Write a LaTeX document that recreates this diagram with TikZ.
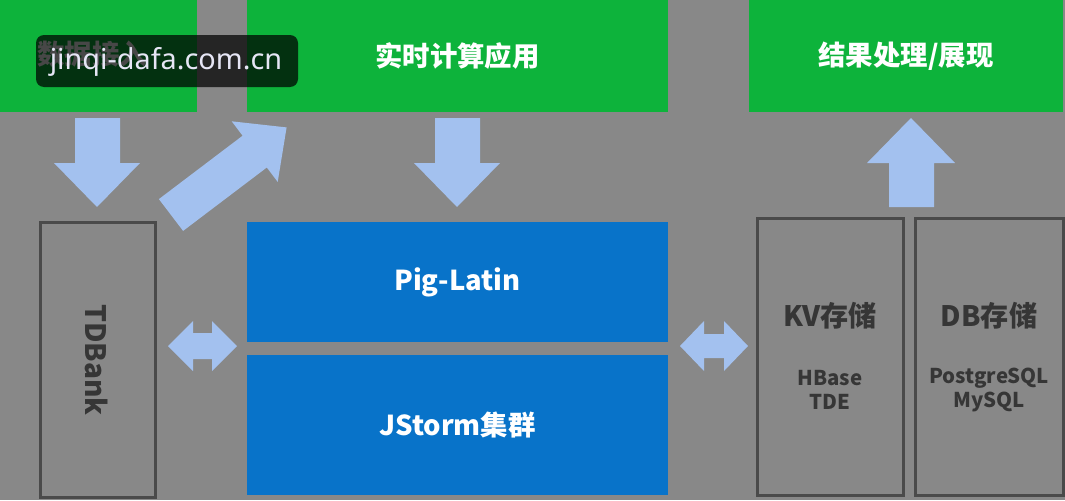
\documentclass[tikz,border=0pt]{standalone}
\usepackage{fontspec}
\setmainfont{Noto Sans CJK SC}
\newfontfamily\wmfont{Noto Sans}
\definecolor{bg}{HTML}{888888}
\definecolor{gbox}{HTML}{0DB33B}
\definecolor{bbox}{HTML}{0873C9}
\definecolor{arr}{HTML}{A3C1EF}
\definecolor{dk}{HTML}{363636}
\definecolor{bd}{HTML}{4A4A4A}
\definecolor{wmtext}{HTML}{E6E6F5}
\def\u{0.025cm}
\begin{document}
\begin{tikzpicture}[x=0.025cm,y=-0.025cm,
  greenbox/.style={fill=gbox,draw=none,inner sep=0pt,text=white,font=\fontsize{19.5}{22}\selectfont\bfseries},
  bluebox/.style={fill=bbox,draw=none,inner sep=0pt,text=white,font=\fontsize{19.5}{22}\selectfont\bfseries},
  storebox/.style={draw=bd,line width=3*\u,inner sep=0pt},
  bigarrow/.style={fill=arr,draw=none},
  darktext/.style={text=dk,font=\bfseries}]
\fill[bg] (0,0) rectangle (1065,500);
\useasboundingbox (0,0) rectangle (1065,500);
% top green boxes
\node[greenbox,minimum width=197*\u,minimum height=112*\u] (g1) at (98.5,56) {};
\node[text=white,font=\fontsize{19.5}{22}\selectfont\bfseries] (g1t) at (92,54) {数据接入};
\node[greenbox,minimum width=421*\u,minimum height=112*\u] (g2) at (457.5,56) {实时计算应用};
\node[greenbox,minimum width=314*\u,minimum height=112*\u] (g3) at (906,56) {结果处理/展现};
% middle blue boxes
\node[bluebox,minimum width=421*\u,minimum height=120*\u] (pig) at (457.5,282) {Pig-Latin};
\node[bluebox,minimum width=421*\u,minimum height=140*\u] (js) at (457.5,425) {JStorm集群};
% storage boxes
\node[storebox,minimum width=115*\u,minimum height=275*\u] (tdb) at (97.5,359.5) {};
\node[darktext,rotate=-90,font=\fontsize{20}{22}\selectfont\bfseries] (tdbt) at (97,360) {TDBank};
\node[storebox,minimum width=146*\u,minimum height=277*\u] (kv) at (830,356.5) {};
\node[storebox,minimum width=148*\u,minimum height=277*\u] (db) at (989,356.5) {};
\node[darktext,font=\fontsize{20}{22}\selectfont\bfseries] (kvt) at (830,316) {KV存储};
\node[darktext,font=\fontsize{14.5}{17}\selectfont\bfseries,align=center] (kvs) at (830,390) {HBase\\TDE};
\node[darktext,font=\fontsize{20}{22}\selectfont\bfseries] (dbt) at (989,316) {DB存储};
\node[darktext,font=\fontsize{14.5}{17}\selectfont\bfseries,align=center] (dbs) at (989,390) {PostgreSQL\\MySQL};
% arrows
\fill[bigarrow] (75,118) -- (120,118) -- (120,163) -- (140,163) -- (97,207) -- (54,163) -- (75,163) -- cycle;
\fill[bigarrow] (435,118) -- (480,118) -- (480,163) -- (500,163) -- (457,207) -- (414,163) -- (435,163) -- cycle;
\fill[bigarrow] (889,207) -- (934,207) -- (934,163) -- (955,163) -- (911,118) -- (867,163) -- (889,163) -- cycle;
\fill[bigarrow] (158.9,199.1) -- (242.6,135.7) -- (231.7,121.3) -- (286.6,127.4) -- (277.7,181.9) -- (266.8,167.5) -- (183.1,230.9) -- cycle;
\fill[bigarrow] (168,346) -- (193,321) -- (193,333) -- (212,333) -- (212,321) -- (237,346) -- (212,371) -- (212,359) -- (193,359) -- (193,371) -- cycle;
\fill[bigarrow] (680,346) -- (704,321) -- (704,334) -- (724,334) -- (724,321) -- (748,346) -- (724,371) -- (724,358) -- (704,358) -- (704,371) -- cycle;
% watermark
\fill[black,opacity=0.72,rounded corners=8*\u] (36,35) rectangle (298,87);
\node[text=wmtext,font=\wmfont\fontsize{20.5}{24}\selectfont,inner sep=0pt] (wm) at (166,62) {jinqi-dafa.com.cn};
\end{tikzpicture}
\end{document}
